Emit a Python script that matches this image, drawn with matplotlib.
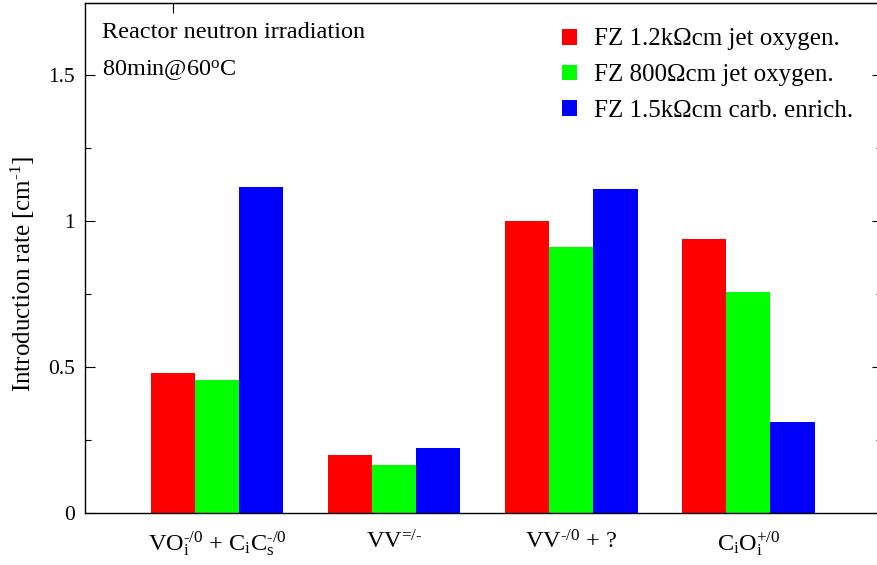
import matplotlib
matplotlib.use("Agg")
import matplotlib.pyplot as plt
import numpy as np
from matplotlib.ticker import MultipleLocator

plt.rcParams['font.family'] = ['Liberation Serif', 'DejaVu Serif']
plt.rcParams['mathtext.fontset'] = 'custom'
plt.rcParams['mathtext.rm'] = 'Liberation Serif'
plt.rcParams['mathtext.it'] = 'Liberation Serif:italic'
plt.rcParams['mathtext.bf'] = 'Liberation Serif:bold'

categories = [r'VO$_\mathrm{i}^{\text{-/0}}$ + C$_\mathrm{i}$C$_\mathrm{s}^{\text{-/0}}$',
              r'VV$^{\text{=/-}}$',
              r'VV$^{\text{-/0}}$ + ?',
              r'C$_\mathrm{i}$O$_\mathrm{i}^{\text{+/0}}$']
series_names = ['FZ 1.2k\u03a9cm jet oxygen.', 'FZ 800\u03a9cm jet oxygen.', 'FZ 1.5k\u03a9cm carb. enrich.']
fz12_oxygen = [0.48, 0.20, 1.00, 0.94]
fz800_oxygen = [0.455, 0.165, 0.91, 0.757]
fz15_carbon = [1.116, 0.223, 1.11, 0.312]
colors = ['#ff0000', '#00ff00', '#0000ff']

fig = plt.figure(figsize=(8.77, 5.65), dpi=100)
ax = fig.add_axes([85/877, 52/565, (882-85)/877, (513-3)/565])

x = np.arange(len(categories))
w = 0.25
for i, (vals, name, c) in enumerate(zip([fz12_oxygen, fz800_oxygen, fz15_carbon], series_names, colors)):
    ax.bar(x + (i - 1) * w, vals, width=w, color=c, label=name, linewidth=0)

ax.set_xlim(-0.745, 3.755)
ax.set_ylim(0, 1.747)
ax.set_xticks(x)
ax.set_xticklabels(categories, fontsize=17.5)
ax.tick_params(axis='x', which='both', bottom=False, top=False, pad=9)
ax.set_yticks([0, 0.5, 1, 1.5])
ax.set_yticklabels(['0', '0.5', '1', '1.5'], fontsize=15.5)
ax.yaxis.set_minor_locator(MultipleLocator(0.25))
ax.tick_params(axis='y', which='major', direction='in', length=7.5, width=0.8, right=True, pad=7)
ax.tick_params(axis='y', which='minor', direction='in', length=4, width=0.8, right=True)
# single top tick as in reference
sec = ax.secondary_xaxis('top')
sec.set_xticks([-0.25])
sec.set_xticklabels([''])
sec.tick_params(direction='in', length=7.5, width=0.8)
for s in ax.spines.values():
    s.set_linewidth(1.0)

ax.set_ylabel(r'Introduction rate [cm$^{\text{-1}}$]', fontsize=18)
ax.yaxis.set_label_coords(-0.06, 0.468)

ax.text(0.021, 0.963, 'Reactor neutron irradiation', transform=ax.transAxes, fontsize=17.5, va='top', ha='left')
ax.text(0.021, 0.891, r'80min@60$^{\text{o}}$C', transform=ax.transAxes, fontsize=17.5, va='top', ha='left')

leg = ax.legend(loc='upper left', bbox_to_anchor=(0.598, 0.95), frameon=False, fontsize=18,
                handlelength=0.6, handleheight=0.6, handletextpad=0.7, labelspacing=0.55,
                borderpad=0, borderaxespad=0)

fig.savefig('out.png', dpi=100)
